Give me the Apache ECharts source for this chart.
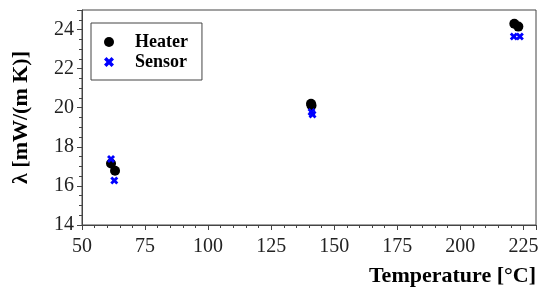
<!DOCTYPE html>
<html>
<head>
<meta charset="utf-8">
<script src="https://cdn.jsdelivr.net/npm/echarts@6/dist/echarts.min.js"></script>
<style>
  html, body { margin: 0; padding: 0; background: #fff; }
  #chart { width: 544px; height: 291px; }
</style>
</head>
<body>
<div id="chart"></div>
<script>
// measured points, temperature in °C, lambda in mW/(m K)
const heaterT = [61.5, 63.1, 140.8, 141.0, 221.4, 223.0]
const heaterL = [17.15, 16.78, 20.20, 20.12, 24.30, 24.15]
const sensorT = [61.5, 62.8, 141.0, 141.4, 221.2, 223.6]
const sensorL = [17.38, 16.28, 19.78, 19.65, 23.64, 23.64]
const xTicks = [50, 75, 100, 125, 150, 175, 200, 225]
const yTicks = [14, 16, 18, 20, 22, 24]

const serif = "'Liberation Serif', 'Times New Roman', serif"
const xMark = 'path://M0,2.5 L2.5,0 L5,2.5 L7.5,0 L10,2.5 L7.5,5 L10,7.5 L7.5,10 L5,7.5 L2.5,10 L0,7.5 L2.5,5 Z'

function pairs (xs, ys) {
  let out = []
  for (let i = 0; i < xs.length; i++) {
    out.push([xs[i], ys[i]])
  }
  return out
}

let myChart = echarts.init(document.getElementById('chart'))
let option = {
  animation: false,
  grid: {
    left: 82,
    right: 8,
    top: 10,
    bottom: 66,
    show: true,
    borderColor: '#444',
    borderWidth: 1
  },
  legend: {
    left: 91,
    top: 23,
    orient: 'vertical',
    borderColor: '#444',
    borderWidth: 1,
    padding: [10, 14, 9, 13],
    itemWidth: 10,
    itemHeight: 10,
    itemGap: 2,
    textStyle: {
      fontFamily: serif,
      fontWeight: 'bold',
      fontSize: 18,
      color: '#000',
      lineHeight: 18,
      padding: [0, 0, 0, 16]
    },
    data: ['Heater', 'Sensor']
  },
  xAxis: {
    type: 'value',
    min: 50,
    max: 230,
    interval: 25,
    name: 'Temperature [°C]',
    nameLocation: 'end',
    nameGap: 0,
    nameTextStyle: {
      fontFamily: serif,
      fontWeight: 'bold',
      fontSize: 22,
      color: '#000',
      align: 'right',
      verticalAlign: 'top',
      padding: [40, 0, 0, 0]
    },
    axisLine: { lineStyle: { color: '#444' } },
    axisTick: { length: 5, lineStyle: { color: '#444' } },
    minorTick: { show: true, splitNumber: 5, length: 3, lineStyle: { color: '#444' } },
    splitLine: { show: false },
    axisLabel: {
      fontFamily: serif,
      fontSize: 20,
      color: '#222',
      margin: 12,
      formatter: v => (xTicks.indexOf(v) >= 0 ? String(v) : '')
    }
  },
  yAxis: {
    type: 'value',
    min: 14,
    max: 25,
    interval: 2,
    name: 'λ [mW/(m K)]',
    nameLocation: 'middle',
    nameGap: 50,
    nameTextStyle: {
      fontFamily: serif,
      fontWeight: 'bold',
      fontSize: 22,
      color: '#000'
    },
    axisLine: { lineStyle: { color: '#444' } },
    axisTick: { length: 5, lineStyle: { color: '#444' } },
    minorTick: { show: true, splitNumber: 4, length: 3, lineStyle: { color: '#444' } },
    splitLine: { show: false },
    axisLabel: {
      fontFamily: serif,
      fontSize: 20,
      color: '#222',
      margin: 8,
      formatter: v => (yTicks.indexOf(v) >= 0 ? String(v) : '')
    }
  },
  series: [
    {
      name: 'Heater',
      type: 'scatter',
      symbol: 'circle',
      symbolSize: 10,
      itemStyle: { color: '#000', opacity: 1 },
      data: pairs(heaterT, heaterL)
    },
    {
      name: 'Sensor',
      type: 'scatter',
      symbol: xMark,
      symbolSize: 8,
      itemStyle: { color: '#0000ff', opacity: 1 },
      data: pairs(sensorT, sensorL)
    }
  ]
}
myChart.setOption(option)
</script>
</body>
</html>
